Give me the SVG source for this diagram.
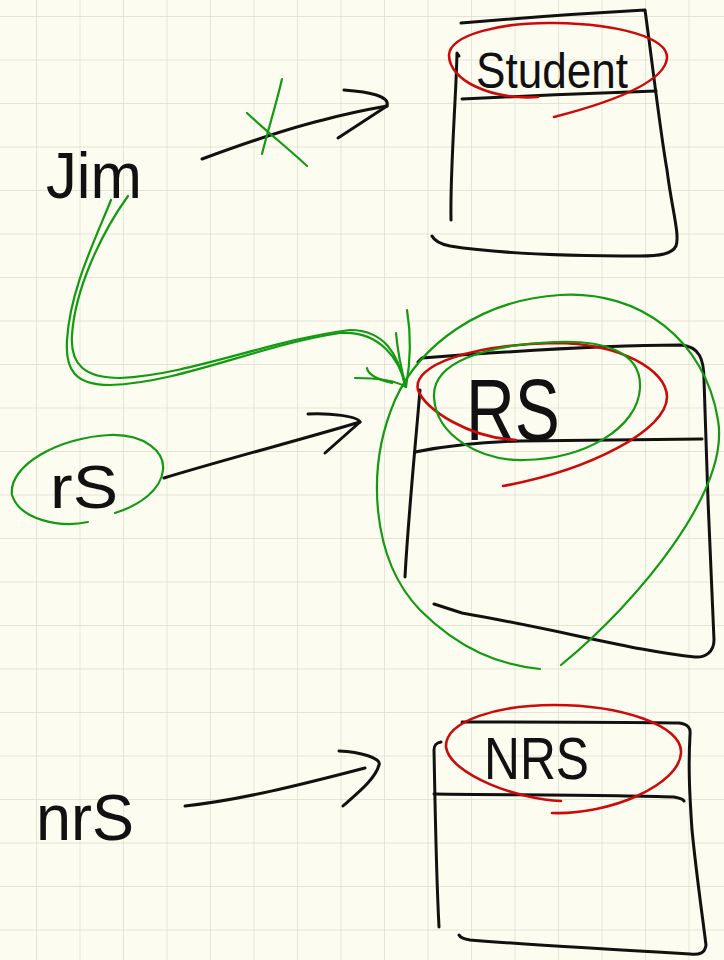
<svg xmlns="http://www.w3.org/2000/svg" width="724" height="960" viewBox="0 0 724 960">
<style>
.k{fill:none;stroke:#111;stroke-width:3;stroke-linecap:round;stroke-linejoin:round}
.r{fill:none;stroke:#cc0a0a;stroke-width:2.6;stroke-linecap:round}
.g{fill:none;stroke:#129a12;stroke-width:2.2;stroke-linecap:round}
.t{font-family:"Liberation Sans",Arial,sans-serif;fill:#111}
</style>
<defs>
<pattern id="grid" x="36" y="16" width="43.5" height="43.5" patternUnits="userSpaceOnUse">
<path d="M0,0 V43.5 M0,0 H43.5" stroke="#dedccb" stroke-width="1.4" fill="none"/>
</pattern>
</defs>
<rect width="724" height="960" fill="#fdfcf0"/>
<rect width="724" height="960" fill="url(#grid)"/>

<g id="student">
<path class="k" d="M461,23 C 520,18 590,13 645,10 C 652,60 660,130 667,170 C 672,210 680,235 676,246 C 672,254 660,256 640,256 C 580,256 500,254 450,246 C 440,244 434,240 432,236"/>
<path class="k" d="M459,56 L457,53 C 456,100 450,170 451,220"/>
<path class="k" d="M462,99 C 520,96 600,93 656,91"/>
<text class="t" x="476" y="88" font-size="50" textLength="152" lengthAdjust="spacingAndGlyphs">Student</text>
<path class="r" d="M538,97 C 490,100 449,80 449,55 C 450,35 500,22 555,23 C 620,24 668,38 667,58 C 665,80 620,100 554,117"/>
</g>

<g id="jim">
<text class="t" x="46" y="198" font-size="64" textLength="96" lengthAdjust="spacingAndGlyphs">Jim</text>
</g>

<g id="rs-node">
<path class="k" d="M418,362 L422,358 C 500,352 600,345 680,345 C 700,346 704,360 704,380 L 708,500 L 714,640 C 714,652 705,658 695,657 C 640,652 560,630 462,613 L 434,604"/>
<path class="k" d="M420,390 C 415,450 408,520 405,577"/>
<path class="k" d="M415,452 C 440,447 480,442 520,441 L 702,439"/>
<text class="t" x="466" y="440" font-size="88" textLength="94" lengthAdjust="spacingAndGlyphs">RS</text>
<path class="r" d="M516,440 C 470,438 425,410 418,390 C 412,365 470,345 554,343 C 620,343 667,370 667,397 C 667,430 590,470 503,486"/>
<path class="g" d="M640,388 C 642,350 600,340 555,342 C 485,345 432,362 434,397 C 436,437 482,461 524,460 C 585,459 638,428 640,388 Z"/>
<path class="g" d="M561,665 C 640,600 730,490 718,420 C 705,340 640,290 560,295 C 480,300 420,345 395,400 C 365,470 372,560 420,610 C 460,650 500,665 540,669"/>
</g>

<g id="rs-ref">
<text class="t" x="50" y="508" font-size="62" textLength="68" lengthAdjust="spacingAndGlyphs">rS</text>
<path class="g" d="M88,522 C 60,528 20,520 12,495 C 8,465 60,437 110,435 C 145,434 165,452 163,470 C 161,490 140,505 115,513"/>
</g>

<g id="nrs-node">
<path class="k" d="M462,722 C 540,722 620,722 679,723 C 688,724 691,728 690,735 C 688,770 690,800 692,830 C 697,880 703,920 706,945 C 705,953 700,955 690,954 C 620,950 520,944 470,940 C 464,939 460,937 459,935"/>
<path class="k" d="M441,742 C 436,743 434,745 434,750 C 435,800 436,870 439,927"/>
<path class="k" d="M434,794 C 520,795 620,795 674,797 C 680,798 683,799 684,801"/>
<text class="t" x="484" y="779" font-size="60" textLength="105" lengthAdjust="spacingAndGlyphs">NRS</text>
<path class="r" d="M561,801 C 520,800 450,775 446,747 C 445,720 500,705 554,705 C 620,705 683,725 681,753 C 679,785 610,815 552,813"/>
</g>

<g id="nrs-ref">
<text class="t" x="36" y="840" font-size="64" textLength="98" lengthAdjust="spacingAndGlyphs">nrS</text>
</g>

<g id="connectors">
<path class="k" d="M202,159 C 240,145 290,128 323,120 C 345,114 370,109 387,106"/>
<path class="k" d="M344,90 C 370,92 390,96 387,106 L 338,138"/>
<path class="g" d="M282,79 C 276,105 268,130 262,154"/>
<path class="g" d="M247,113 C 265,130 290,150 307,166"/>
<path class="g" d="M111,200 C 95,240 70,290 67,340 C 65,370 75,385 110,385 C 180,383 260,345 340,333 C 380,330 400,360 406,387"/>
<path class="g" d="M128,196 C 100,235 75,290 72,335 C 70,365 85,378 120,378 C 190,375 270,340 350,330 C 385,330 398,355 405,385"/>
<path class="g" d="M407,310 C 412,340 410,365 406,387"/>
<path class="g" d="M396,333 C 398,355 402,372 406,387"/>
<path class="g" d="M355,378 C 375,378 395,380 406,387"/>
<path class="g" d="M367,368 C 368,375 380,380 392,383"/>
<path class="k" d="M164,478 C 230,458 300,440 360,422"/>
<path class="k" d="M308,414 C 330,413 358,416 360,422 L 325,453"/>
<path class="k" d="M185,806 C 240,800 300,785 365,768"/>
<path class="k" d="M339,751 C 360,752 382,758 379,765 C 375,780 355,795 343,806"/>
</g>
</svg>
